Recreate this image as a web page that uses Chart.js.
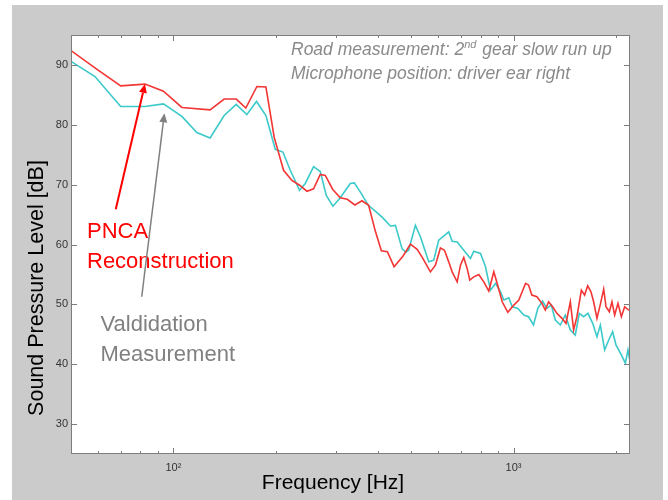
<!DOCTYPE html>
<html>
<head>
<meta charset="utf-8">
<script src="https://cdn.jsdelivr.net/npm/chart.js@4.4.0/dist/chart.umd.min.js"></script>
<style>
  html, body { margin: 0; padding: 0; background: #fff; }
  #frame { position: absolute; left: 12px; top: 5px; width: 651px; height: 495px; background: #cbcbcb; }
  #wrap { position: absolute; left: 0; top: 0; width: 668px; height: 500px; }
</style>
</head>
<body>
<div id="frame"></div>
<div id="wrap"><canvas id="chart" width="668" height="500"></canvas></div>
<script>
// PNCA reconstruction (red)
const redFreq = [50, 59.5, 70, 82.5, 93.5, 105.9, 128.2, 141, 153, 163.3, 176, 187.1, 197.9, 210.8, 223.1,
  234.9, 247, 258.3, 270.3, 279.6, 294.2, 309.5, 324.5, 341.5, 358.5, 375, 392.5, 408.7, 425.7, 445.5,
  472.8, 497.5, 520.6, 538.5,
  569.7, 589.3, 609.6, 626.4, 644.9, 660, 682.9, 698.2, 714, 730.6, 743.7, 764, 790.4, 817.6, 845.8,
  875, 895.4, 926.2, 962.1, 1002, 1036.6, 1084.7, 1107, 1132, 1171, 1212, 1240, 1268, 1303, 1341,
  1388, 1426, 1469, 1502, 1536, 1583, 1618, 1652, 1689, 1720, 1759, 1800, 1841, 1870, 1913,
  1947, 1983, 2028, 2075, 2122, 2181, 2200];
const redDb = [92.4, 89.3, 86.5, 86.8, 85.6, 82.9, 82.5, 84.3, 84.3, 82.8, 86.4, 86.3, 77.9, 72.4, 70.7,
  69.9, 68.9, 69.3, 71.7, 71.55, 69.2, 67.8, 67.55, 66.6, 67.3, 66.55, 62.2, 58.96, 58.8, 56.3,
  58.05, 60.05, 59.2, 57.9,
  55.43, 56.55, 59.43, 59.05, 57.1, 55.43, 53.77, 56.55, 57.83, 56.0, 54.05, 54.6, 55.0, 53.77, 52.22,
  55.43, 53.5, 50.43, 48.67, 49.88, 50.72, 53.5, 53.22, 51.55, 51.27, 50.17, 49.05, 50.43, 49.6, 48.5,
  47.67, 46.83, 50.43, 45.72, 47.93, 52.38, 51.55, 53.1, 52.1, 50.43, 47.67, 50.0, 52.55, 49.6, 48.77,
  50.43, 48.22, 50.17, 47.93, 49.6, 49.05, 49.05];

// validation measurement (cyan)
const cyanFreq = [50, 58.8, 70, 82.5, 93.5, 105.9, 117.2, 128.2, 141, 153, 164.4, 175.5, 187.1, 199.3, 209.9,
  220.6, 234.9, 244.2, 258.3, 270.3, 281.5, 294.5, 309.5, 331.2, 340.4, 356.9, 374.3, 395.3, 412.9, 434.5,
  449.5, 470.2, 482.5, 491.7, 514.6, 532.4,
  563.3, 582.6, 602.6, 644.9, 660, 682.9, 714, 747.1, 764, 799.5, 827.1, 855.6, 885.1, 915.7, 936.3,
  968.8, 991.3, 1029.6, 1072.3, 1107, 1145, 1179, 1217, 1253, 1291, 1327, 1373, 1420, 1469, 1519,
  1561, 1607, 1655, 1709, 1759, 1800, 1853, 1905, 1956, 2001, 2075, 2132, 2170, 2200];
const cyanDb = [90.6, 88.05, 83.05, 83.05, 83.5, 81.4, 78.7, 77.8, 81.55, 83.4, 81.7, 83.9, 81.55, 75.9, 75.45,
  72.4, 69.05, 70.2, 73.0, 72.2, 68.2, 66.4, 67.8, 70.2, 70.3, 68.5, 66.55, 65.4, 64.45, 63.1,
  63.2, 59.3, 58.7, 59.05, 63.2, 61.3,
  57.1, 57.38, 60.72, 62.1, 60.55, 60.43, 59.05, 57.67, 58.88, 58.5, 56.27, 52.38, 53.5, 52.1, 50.72,
  51.1, 49.6, 49.33, 48.22, 47.93, 46.55, 49.33, 50.55, 49.33, 49.88, 47.38, 46.55, 48.22, 45.72, 44.88,
  48.5, 47.93, 48.5, 46.83, 44.6, 46.55, 42.38, 44.05, 45.43, 43.22, 41.55, 40.17, 42.38, 40.43];

const xTicks = [60, 70, 80, 90, 100, 200, 300, 400, 500, 600, 700, 800, 900, 1000, 2000];
const xTickLabels = { 100: '10²', 1000: '10³' };
const yTicks = [30, 40, 50, 60, 70, 80, 90];

const FONT = "'Liberation Sans', Arial, sans-serif";

const toPoints = (xs, ys) => xs.map((f, i) => ({ x: f, y: ys[i] }));

function arrow(ctx, x1, y1, x2, y2, color, width) {
  const ang = Math.atan2(y2 - y1, x2 - x1);
  const hl = 9, hw = 4;
  const bx = x2 - hl * Math.cos(ang), by = y2 - hl * Math.sin(ang);
  ctx.strokeStyle = color;
  ctx.fillStyle = color;
  ctx.lineWidth = width;
  ctx.beginPath();
  ctx.moveTo(x1, y1);
  ctx.lineTo(bx, by);
  ctx.stroke();
  ctx.beginPath();
  ctx.moveTo(x2, y2);
  ctx.lineTo(bx + hw * Math.sin(ang), by - hw * Math.cos(ang));
  ctx.lineTo(bx - hw * Math.sin(ang), by + hw * Math.cos(ang));
  ctx.closePath();
  ctx.fill();
}

const decor = {
  id: 'decor',
  beforeDraw(chart) {
    const { ctx, chartArea: a } = chart;
    ctx.save();
    ctx.fillStyle = '#ffffff';
    ctx.fillRect(a.left, a.top, a.right - a.left, a.bottom - a.top);
    ctx.restore();
  },
  afterDraw(chart) {
    const { ctx, chartArea: a, scales: { x, y } } = chart;
    ctx.save();

    // box + inward ticks
    ctx.strokeStyle = '#7d7d7d';
    ctx.lineWidth = 1;
    ctx.strokeRect(a.left + 0.5, a.top + 0.5, a.right - a.left - 1, a.bottom - a.top - 1);
    ctx.beginPath();
    xTicks.forEach(v => {
      const px = Math.round(x.getPixelForValue(v)) + 0.5;
      const len = xTickLabels[v] ? 6 : 3;
      ctx.moveTo(px, a.bottom); ctx.lineTo(px, a.bottom - len);
      ctx.moveTo(px, a.top); ctx.lineTo(px, a.top + len);
    });
    yTicks.forEach(v => {
      const py = Math.round(y.getPixelForValue(v)) + 0.5;
      ctx.moveTo(a.left, py); ctx.lineTo(a.left + 6, py);
      ctx.moveTo(a.right, py); ctx.lineTo(a.right - 6, py);
    });
    ctx.stroke();

    // axis titles
    ctx.fillStyle = '#000';
    ctx.font = `21px ${FONT}`;
    ctx.textAlign = 'center';
    ctx.textBaseline = 'alphabetic';
    ctx.fillText('Frequency [Hz]', 333, 489);
    ctx.save();
    ctx.translate(43, 288);
    ctx.rotate(-Math.PI / 2);
    ctx.font = `21.5px ${FONT}`;
    ctx.fillText('Sound Pressure Level [dB]', 0, 0);
    ctx.restore();

    // header note
    ctx.textAlign = 'left';
    ctx.fillStyle = '#8a8a8a';
    ctx.font = `italic 17.5px ${FONT}`;
    let tx = 291;
    const p1 = 'Road measurement: 2';
    ctx.fillText(p1, tx, 55);
    tx += ctx.measureText(p1).width;
    ctx.font = `italic 11px ${FONT}`;
    ctx.fillText('nd', tx, 48);
    tx += ctx.measureText('nd').width + 1;
    ctx.font = `italic 17.5px ${FONT}`;
    ctx.fillText(' gear slow run up', tx, 55);
    ctx.fillText('Microphone position: driver ear right', 291, 79);

    // labels + arrows
    ctx.font = `22px ${FONT}`;
    ctx.fillStyle = '#ff0000';
    ctx.fillText('PNCA', 87, 238);
    ctx.fillText('Reconstruction', 87, 268);
    ctx.fillStyle = '#808080';
    ctx.fillText('Valdidation', 100.5, 331);
    ctx.fillText('Measurement', 100.5, 361);

    arrow(ctx, x.getPixelForValue(67.7), y.getPixelForValue(65.9),
      x.getPixelForValue(82.5), y.getPixelForValue(86.83), '#ff0000', 2);
    arrow(ctx, x.getPixelForValue(80.7), y.getPixelForValue(51.27),
      x.getPixelForValue(94.1), y.getPixelForValue(81.93), '#808080', 1.5);

    ctx.restore();
  }
};

new Chart(document.getElementById('chart'), {
  type: 'line',
  data: {
    datasets: [{
      label: 'PNCA Reconstruction',
      data: toPoints(redFreq, redDb),
      borderColor: '#f23535',
      borderWidth: 1.6,
      pointRadius: 0,
      tension: 0
    }, {
      label: 'Valdidation Measurement',
      data: toPoints(cyanFreq, cyanDb),
      borderColor: '#3cc9c9',
      borderWidth: 1.6,
      pointRadius: 0,
      tension: 0
    }]
  },
  options: {
    responsive: false,
    animation: false,
    layout: { padding: { left: 0, top: 35, right: 38, bottom: 0 } },
    plugins: { legend: { display: false }, tooltip: { enabled: false } },
    scales: {
      x: {
        type: 'logarithmic',
        min: 50,
        max: 2200,
        afterBuildTicks: s => { s.ticks = xTicks.map(v => ({ value: v, major: !!xTickLabels[v] })); },
        afterFit: s => { s.height = 46; },
        grid: { display: false, drawTicks: false },
        border: { display: false },
        ticks: {
          autoSkip: false,
          maxRotation: 0,
          padding: 7,
          color: '#333',
          font: { size: 11, family: FONT },
          callback: v => xTickLabels[v] || ''
        }
      },
      y: {
        min: 25,
        max: 95,
        afterBuildTicks: s => { s.ticks = yTicks.map(v => ({ value: v })); },
        afterFit: s => { s.width = 71; },
        grid: { display: false, drawTicks: false },
        border: { display: false },
        ticks: {
          padding: 3,
          color: '#333',
          font: { size: 11, family: FONT },
          callback: v => String(v)
        }
      }
    }
  },
  plugins: [decor]
});
</script>
</body>
</html>
